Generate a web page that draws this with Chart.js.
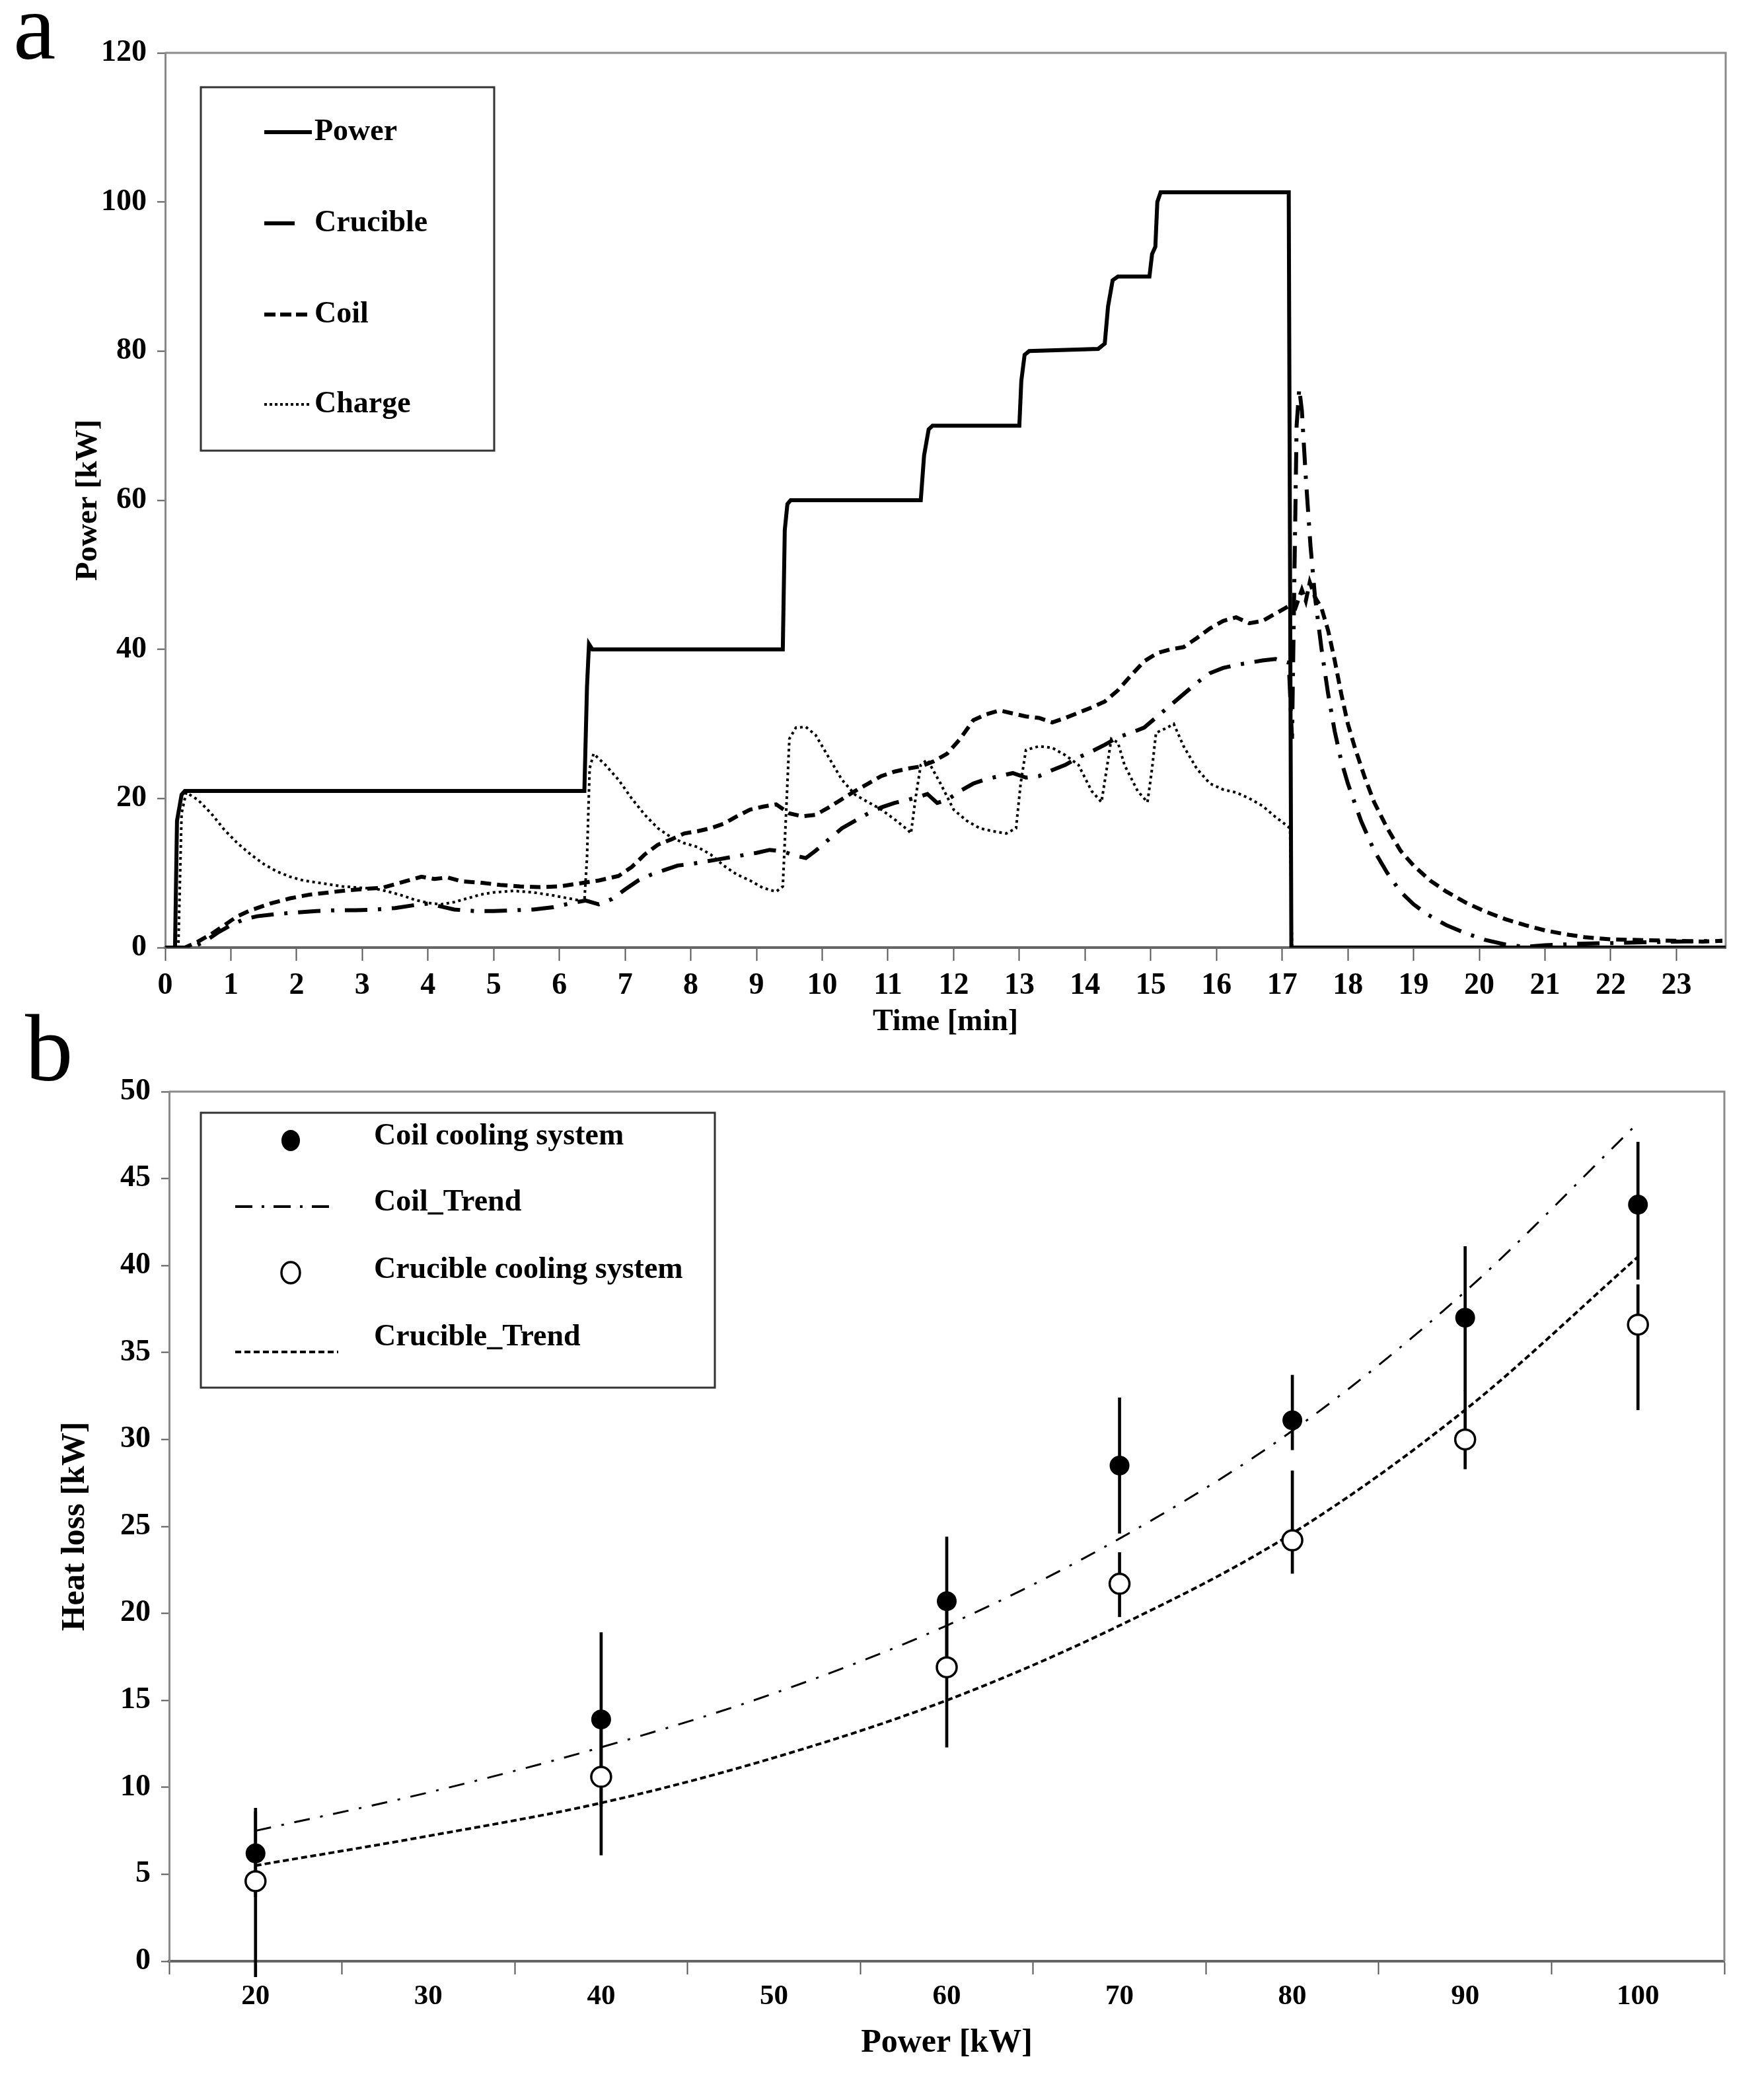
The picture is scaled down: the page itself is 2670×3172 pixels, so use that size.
<!DOCTYPE html>
<html>
<head>
<meta charset="utf-8">
<script src="https://cdn.jsdelivr.net/npm/chart.js@4.4.1/dist/chart.umd.min.js"></script>
<style>
  body { margin: 0; background: #fff; width: 2670px; height: 3172px; position: relative; overflow: hidden; }
  canvas { position: absolute; left: 0; }
  .panel { position: absolute; font: 145px 'Liberation Serif', 'Times New Roman', serif; line-height: 145px; z-index: 2; }
</style>
</head>
<body>
<div class="panel" style="left:20px;top:-32px">a</div>
<canvas id="timeChart" width="2670" height="1575" style="top:0"></canvas>
<canvas id="lossChart" width="2670" height="1597" style="top:1575px"></canvas>
<div class="panel" style="left:38px;top:1514px">b</div>
<script>
// ---- panel a: power and heat flows over time, [min, kW] ----
const timeTicks = [0,1,2,3,4,5,6,7,8,9,10,11,12,13,14,15,16,17,18,19,20,21,22,23];
const powerTicks = [0, 20, 40, 60, 80, 100, 120];

const powerData = [[0,0],[0.15,0],[0.18,17],[0.25,20.5],[0.3,21],[6.38,21],[6.42,35],[6.45,40.7],[6.5,40],
  [9.4,40],[9.43,56],[9.47,59.5],[9.52,60],[11.5,60],[11.55,66],[11.62,69.5],[11.68,70],[13.0,70],[13.03,76],
  [13.08,79.5],[13.15,80],[14.2,80.3],[14.3,81],[14.35,86],[14.42,89.5],[14.5,90],[14.98,90],[15.02,93],[15.07,94],
  [15.1,100],[15.15,101.3],[17.1,101.3],[17.14,0],[23.75,0]];

const crucibleData = [[0,0],[0.4,0],[0.6,0.8],[0.8,2.0],[1.0,3.0],[1.2,3.8],[1.4,4.2],[1.7,4.5],[2.0,4.7],[2.3,4.9],
  [2.6,5.0],[2.9,5.0],[3.2,5.1],[3.5,5.3],[3.8,5.7],[4.0,5.9],[4.2,5.5],[4.4,5.1],[4.7,4.9],[5.0,4.9],[5.3,5.0],
  [5.6,5.1],[5.9,5.4],[6.2,6.0],[6.4,6.3],[6.6,5.8],[6.8,6.5],[7.0,7.8],[7.2,9.0],[7.4,9.8],[7.6,10.4],[7.8,11.0],
  [8.0,11.2],[8.2,11.5],[8.4,11.8],[8.6,12.1],[8.8,12.4],[9.0,12.7],[9.2,13.1],[9.4,12.9],[9.6,12.3],[9.75,12.0],
  [9.9,13.0],[10.1,14.5],[10.3,16.0],[10.5,17.0],[10.7,18.0],[10.9,18.8],[11.1,19.4],[11.3,19.8],[11.5,20.3],
  [11.6,20.6],[11.75,19.4],[11.9,19.8],[12.1,21.0],[12.3,22.0],[12.5,22.6],[12.7,23.0],[12.9,23.4],[13.1,22.8],
  [13.3,23.0],[13.5,23.8],[13.7,24.5],[13.9,25.5],[14.1,26.3],[14.3,27.2],[14.5,28.2],[14.7,28.8],[14.9,29.5],
  [15.1,31.0],[15.3,32.5],[15.5,34.0],[15.7,35.5],[15.9,36.8],[16.1,37.5],[16.3,37.9],[16.5,38.2],[16.7,38.5],
  [16.9,38.7],[17.1,38.2],[17.15,28],[17.22,70],[17.26,75],[17.3,72],[17.36,63],[17.43,54],[17.5,47],[17.6,40],
  [17.7,34],[17.8,29],[17.9,25],[18.0,22],[18.2,17],[18.4,13],[18.6,10],[18.8,7.5],[19.0,5.8],[19.2,4.5],
  [19.5,3.0],[19.8,1.9],[20.1,1.0],[20.4,0.4],[20.7,0.1],[21.0,0.3],[21.5,0.5],[22.0,0.6],[22.5,0.7],[23.0,0.8],[23.7,0.9]];

const coilData = [[0,0],[0.3,0],[0.5,0.8],[0.7,1.8],[0.9,3.0],[1.1,4.2],[1.3,5.0],[1.6,5.9],[1.9,6.6],[2.2,7.1],
  [2.5,7.4],[2.8,7.7],[3.1,7.9],[3.3,8.0],[3.5,8.5],[3.7,9.0],[3.9,9.5],[4.1,9.2],[4.3,9.4],[4.5,8.9],[4.8,8.7],
  [5.1,8.4],[5.4,8.2],[5.7,8.1],[6.0,8.2],[6.3,8.6],[6.6,9.0],[6.9,9.6],[7.1,10.8],[7.3,12.5],[7.5,13.8],[7.7,14.5],
  [7.9,15.3],[8.1,15.6],[8.3,16.0],[8.5,16.6],[8.7,17.6],[8.9,18.5],[9.1,18.9],[9.3,19.2],[9.5,18.0],[9.7,17.6],
  [9.9,17.8],[10.1,18.8],[10.3,19.9],[10.5,21.0],[10.7,22.0],[10.9,23.0],[11.1,23.6],[11.3,24.0],[11.5,24.3],
  [11.7,25.0],[11.9,26.0],[12.1,28.0],[12.3,30.5],[12.5,31.3],[12.7,31.8],[12.9,31.4],[13.1,31.0],[13.3,30.8],
  [13.5,30.2],[13.7,30.8],[13.9,31.5],[14.1,32.2],[14.3,33.0],[14.5,34.5],[14.7,36.5],[14.9,38.4],[15.1,39.5],
  [15.3,40.0],[15.5,40.3],[15.7,41.5],[15.9,42.8],[16.1,43.8],[16.3,44.3],[16.5,43.5],[16.7,43.8],[16.9,44.8],
  [17.1,45.8],[17.2,45.5],[17.3,48],[17.36,46.5],[17.42,49],[17.5,47],[17.6,45.5],[17.7,42.5],[17.8,38.5],[17.9,34],
  [18.0,30],[18.1,27],[18.25,23],[18.4,19.5],[18.6,16],[18.8,13],[19.0,11],[19.25,9],[19.5,7.5],[19.8,6],[20.1,4.8],
  [20.4,3.8],[20.7,3.0],[21.0,2.3],[21.3,1.8],[21.6,1.4],[22.0,1.1],[22.5,1.0],[23.0,0.9],[23.4,0.8],[23.7,0.9]];

const chargeData = [[0,0],[0.2,0],[0.25,18],[0.32,20.8],[0.5,19.8],[0.7,18.0],[0.9,15.8],[1.1,14.0],[1.3,12.5],
  [1.5,11.2],[1.7,10.2],[1.9,9.5],[2.1,9.0],[2.4,8.6],[2.7,8.2],[3.0,8.0],[3.2,7.9],[3.4,7.5],[3.6,7.0],[3.8,6.4],
  [4.0,6.0],[4.2,5.8],[4.4,6.1],[4.6,6.6],[4.8,7.1],[5.0,7.4],[5.3,7.6],[5.6,7.4],[5.9,7.0],[6.2,6.5],[6.38,6.2],
  [6.42,12],[6.46,24],[6.52,26.0],[6.7,24.5],[6.9,22.5],[7.1,20.0],[7.3,17.8],[7.5,16.0],[7.7,14.8],[7.9,14.0],
  [8.1,13.5],[8.3,12.5],[8.5,11.0],[8.7,9.8],[8.9,9.0],[9.1,8.0],[9.3,7.5],[9.4,8.2],[9.45,18],[9.5,28.0],[9.6,29.5],
  [9.75,29.6],[9.9,28.5],[10.1,25.5],[10.3,22.5],[10.5,20.5],[10.7,19.5],[10.9,18.5],[11.1,17.2],[11.3,15.8],
  [11.35,15.3],[11.42,20],[11.5,24.5],[11.6,25.2],[11.8,22.0],[12.0,18.5],[12.2,17.0],[12.4,16.0],[12.6,15.6],
  [12.8,15.3],[12.95,16.0],[13.02,22],[13.1,26.5],[13.3,27.0],[13.5,26.8],[13.7,25.8],[13.9,24.5],[14.1,21.0],
  [14.25,19.5],[14.33,24],[14.4,28.0],[14.5,27.5],[14.6,24.5],[14.8,21.0],[14.95,19.5],[15.02,24],[15.08,28.8],
  [15.25,29.5],[15.35,30.0],[15.5,27.0],[15.7,24.0],[15.9,22.0],[16.1,21.2],[16.3,20.8],[16.5,20.0],[16.7,19.0],
  [16.9,17.5],[17.05,16.5],[17.12,16.0],[17.15,0]];

// ---- panel b: heat loss vs. power ----
const powerLevels = [20, 40, 60, 70, 80, 90, 100];
const coilLoss = [6.2, 13.9, 20.7, 28.5, 31.1, 37.0, 43.5];
const coilErrUp = [2.6, 5.0, 3.7, 3.9, 2.6, 4.1, 3.6];
const coilErrDown = [2.5, 5.0, 3.7, 3.9, 1.7, 4.2, 4.3];
const crucibleLoss = [4.6, 10.6, 16.9, 21.7, 24.2, 30.0, 36.6];
const crucibleErrUp = [4.0, 3.3, 4.0, 1.8, 4.0, 2.8, 2.3];
const crucibleErrDown = [5.5, 4.5, 4.6, 1.9, 1.9, 1.7, 4.9];
const trendPower = [20, 30, 40, 50, 60, 70, 80, 90, 100];
const coilTrend = [7.5, 9.7, 12.3, 15.4, 19.3, 24.3, 30.5, 38.5, 48.2];
const crucibleTrend = [5.5, 7.2, 9.1, 11.7, 15.0, 19.3, 24.6, 31.7, 40.5];
const kwTicks = [15, 20, 25, 30, 35, 40, 45, 50, 55, 60, 65, 70, 75, 80, 85, 90, 95, 100, 105];

const FONT = "'Liberation Serif', 'Times New Roman', serif";
Chart.defaults.font.family = FONT;
Chart.defaults.font.weight = 'bold';
Chart.defaults.color = '#000';

const toXY = arr => arr.map(p => ({ x: p[0], y: p[1] }));

// top and right sides of the plot box
const frame = {
  id: 'frame',
  beforeDatasetsDraw(chart) {
    const { ctx, chartArea: a } = chart;
    ctx.save();
    ctx.strokeStyle = '#8a8a8a';
    ctx.lineWidth = 3;
    ctx.beginPath();
    ctx.moveTo(a.left, a.top);
    ctx.lineTo(a.right, a.top);
    ctx.lineTo(a.right, a.bottom);
    ctx.stroke();
    ctx.restore();
  }
};

// boxed legend inside the plot, like the original figure
const boxLegend = {
  id: 'boxLegend',
  afterDatasetsDraw(chart, args, o) {
    const { ctx, chartArea: a } = chart;
    const ds = chart.data.datasets;
    ctx.save();
    ctx.fillStyle = '#fff';
    ctx.fillRect(a.left + o.box[0], a.top + o.box[1], o.box[2], o.box[3]);
    ctx.strokeStyle = '#333';
    ctx.lineWidth = 3;
    ctx.strokeRect(a.left + o.box[0], a.top + o.box[1], o.box[2], o.box[3]);
    o.items.forEach(it => {
      const d = ds.find(s => s.label === it.label);
      const y = a.top + it.y;
      if (it.marker) {
        ctx.setLineDash([]);
        ctx.beginPath();
        ctx.ellipse(a.left + it.x0, y, d.pointRadius - 1, d.pointRadius + 1, 0, 0, Math.PI * 2);
        ctx.fillStyle = d.pointBackgroundColor;
        ctx.fill();
        ctx.lineWidth = d.pointBorderWidth;
        ctx.strokeStyle = d.pointBorderColor;
        ctx.stroke();
      } else {
        ctx.setLineDash(it.dash || d.borderDash || []);
        ctx.lineWidth = it.width || d.borderWidth;
        ctx.strokeStyle = '#000';
        ctx.beginPath();
        ctx.moveTo(a.left + it.x0, y);
        ctx.lineTo(a.left + it.x1, y);
        ctx.stroke();
      }
      ctx.setLineDash([]);
      ctx.fillStyle = '#000';
      ctx.font = o.font;
      ctx.textBaseline = 'middle';
      ctx.fillText(d.label, a.left + o.textX, a.top + (it.ty !== undefined ? it.ty : it.y));
    });
    ctx.restore();
  }
};

const lineSet = (label, data, width, dash) => ({
  label, data: toXY(data), showLine: true, pointRadius: 0, borderColor: '#000',
  borderWidth: width, borderDash: dash, borderCapStyle: 'butt', borderJoinStyle: 'miter', tension: 0, fill: false
});

new Chart(document.getElementById('timeChart'), {
  type: 'scatter',
  data: {
    datasets: [
      lineSet('Power', powerData, 6, []),
      lineSet('Crucible', crucibleData, 6, [34, 16, 5, 16]),
      lineSet('Coil', coilData, 6, [16, 9]),
      lineSet('Charge', chargeData, 4, [4, 5])
    ]
  },
  options: {
    responsive: false,
    animation: false,
    devicePixelRatio: 1,
    layout: { padding: { top: 80, right: 58, left: 0, bottom: 0 } },
    plugins: {
      legend: { display: false },
      tooltip: { enabled: false },
      boxLegend: {
        box: [54, 52, 444, 550],
        textX: 226,
        font: 'bold 46px ' + FONT,
        items: [
          { label: 'Power', y: 120, x0: 150, x1: 222 },
          { label: 'Crucible', y: 258, x0: 150, x1: 196, dash: [], width: 6 },
          { label: 'Coil', y: 396, x0: 150, x1: 222, dash: [17, 7], width: 6 },
          { label: 'Charge', y: 532, x0: 150, x1: 222, dash: [4, 4], width: 4 }
        ]
      }
    },
    scales: {
      x: {
        type: 'linear', min: 0, max: 23.75,
        afterBuildTicks: s => { s.ticks = timeTicks.map(v => ({ value: v })); },
        afterFit: s => { s.height = 141; },
        ticks: { font: { size: 46 }, padding: 11, autoSkip: false, maxRotation: 0 },
        grid: { drawOnChartArea: false, tickLength: 20, tickColor: '#555', tickWidth: 2 },
        border: { color: '#666', width: 4 },
        title: { display: true, text: 'Time [min]', font: { size: 46 }, padding: { top: 0, bottom: 0 } }
      },
      y: {
        min: 0, max: 120,
        afterBuildTicks: s => { s.ticks = powerTicks.map(v => ({ value: v })); },
        afterFit: s => { s.width = 250; },
        ticks: { font: { size: 46 }, padding: 16 },
        grid: { drawOnChartArea: false, tickLength: 12, tickColor: '#555', tickWidth: 2 },
        border: { color: '#888', width: 3 },
        title: { display: true, text: 'Power [kW]', font: { size: 47 }, padding: { top: 106, bottom: 0 } }
      }
    }
  },
  plugins: [frame, boxLegend]
});

const errBars = (label, vals, up, down) => ({
  type: 'bar', label,
  data: powerLevels.map((p, i) => ({ x: p, y: [vals[i] - down[i], vals[i] + up[i]] })),
  backgroundColor: '#000', borderWidth: 0, barThickness: 4, grouped: false, clip: false, order: 2
});

new Chart(document.getElementById('lossChart'), {
  type: 'scatter',
  data: {
    datasets: [
      {
        label: 'Coil cooling system',
        data: powerLevels.map((p, i) => ({ x: p, y: coilLoss[i] })),
        pointRadius: 14, pointBackgroundColor: '#000', pointBorderColor: '#000', pointBorderWidth: 2, order: 0
      },
      {
        label: 'Coil_Trend',
        data: trendPower.map((p, i) => ({ x: p, y: coilTrend[i] })),
        showLine: true, pointRadius: 0, borderColor: '#000', borderWidth: 3,
        borderDash: [24, 16, 4, 16], cubicInterpolationMode: 'monotone', order: 1
      },
      {
        label: 'Crucible cooling system',
        data: powerLevels.map((p, i) => ({ x: p, y: crucibleLoss[i] })),
        pointRadius: 15, pointBackgroundColor: '#fff', pointBorderColor: '#000', pointBorderWidth: 3.5, order: 0
      },
      {
        label: 'Crucible_Trend',
        data: trendPower.map((p, i) => ({ x: p, y: crucibleTrend[i] })),
        showLine: true, pointRadius: 0, borderColor: '#000', borderWidth: 4,
        borderDash: [9, 5], cubicInterpolationMode: 'monotone', order: 1
      },
      errBars('coil error', coilLoss, coilErrUp, coilErrDown),
      errBars('crucible error', crucibleLoss, crucibleErrUp, crucibleErrDown)
    ]
  },
  options: {
    responsive: false,
    animation: false,
    devicePixelRatio: 1,
    layout: { padding: { top: 77, right: 60, left: 0, bottom: 0 } },
    plugins: {
      legend: { display: false },
      tooltip: { enabled: false },
      boxLegend: {
        box: [48, 32, 778, 416],
        textX: 310,
        font: 'bold 46px ' + FONT,
        items: [
          { label: 'Coil cooling system', marker: true, y: 74, ty: 68, x0: 184 },
          { label: 'Coil_Trend', y: 174, ty: 168, x0: 100, x1: 256, dash: [26, 14, 4, 14], width: 4 },
          { label: 'Crucible cooling system', marker: true, y: 274, ty: 270, x0: 184 },
          { label: 'Crucible_Trend', y: 394, ty: 372, x0: 100, x1: 256, dash: [9, 5], width: 4 }
        ]
      }
    },
    scales: {
      x: {
        type: 'linear', min: 15, max: 105, offset: false,
        afterBuildTicks: s => { s.ticks = kwTicks.map(v => ({ value: v })); },
        afterFit: s => { s.height = 204; },
        ticks: { font: { size: 43 }, padding: 8, autoSkip: false, maxRotation: 0,
          callback: v => (v % 10 === 0 ? String(v) : '') },
        grid: { drawOnChartArea: false, offset: false, tickLength: 20, tickWidth: 2,
          tickColor: c => (c.tick && c.tick.value % 10 === 0 ? 'rgba(0,0,0,0)' : '#555') },
        border: { color: '#666', width: 4 },
        title: { display: true, text: 'Power [kW]', font: { size: 50 }, padding: { top: 0, bottom: 50 } }
      },
      y: {
        min: 0, max: 50,
        ticks: { stepSize: 5, font: { size: 46 }, padding: 16 },
        afterFit: s => { s.width = 256; },
        grid: { drawOnChartArea: false, tickLength: 12, tickColor: '#555', tickWidth: 2 },
        border: { color: '#888', width: 3 },
        title: { display: true, text: 'Heat loss [kW]', font: { size: 50 }, padding: { top: 84, bottom: 0 } }
      }
    }
  },
  plugins: [frame, boxLegend]
});
</script>
</body>
</html>
